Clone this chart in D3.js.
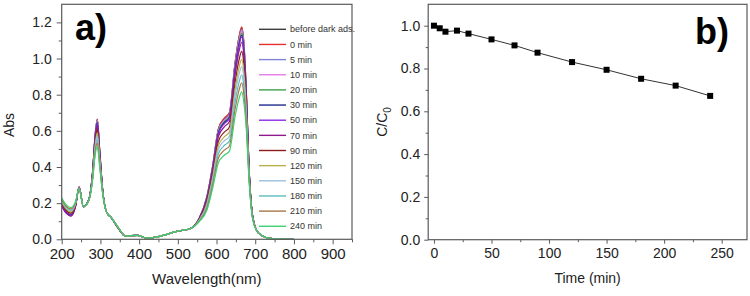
<!DOCTYPE html>
<html>
<head>
<meta charset="utf-8">
<script src="https://cdn.jsdelivr.net/npm/d3@7"></script>
<style>
  body { margin: 0; background: #fff; }
  svg { display: block; font-family: Arial, "Liberation Sans", sans-serif; }
</style>
</head>
<body>
<div class="canvas"></div>
<script>
// ---------- panel a data: UV-vis spectra ----------
const wavelengths = [200, 212, 224, 236, 245, 256, 270, 280, 286, 292, 298, 306, 316, 328, 345, 365, 395, 420, 460, 500,
  530, 555, 575, 590, 605, 620, 633, 648, 658, 665, 671, 677, 684, 694, 708, 730, 760, 800];

const seriesLabels = ['before dark ads.', '0 min', '5 min', '10 min', '20 min', '30 min', '50 min', '70 min',
  '90 min', '120 min', '150 min', '180 min', '210 min', '240 min'];

const seriesColors = ['#3c3c3c', '#e8302e', '#7f83d6', '#e67ee6', '#3aa24a', '#1f2a8c', '#8a2be8', '#8e1a8e',
  '#8e1c1c', '#b8b04a', '#9cc0dc', '#5cbcbc', '#a87848', '#3ed070'];

// one row per series, values at the wavelengths above
const absorbance = [
  [.195,.155,.140,.190,.290,.180,.220,.379,.569,.663,.499,.270,.150,.120,.065,.018,.022,.006,.020,.045,.057,.115,.235,.405,.612,.667,.697,.976,1.116,1.170,1.076,.817,.399,.120,.035,.008,.001,0],
  [.195,.155,.140,.190,.290,.180,.220,.380,.570,.665,.500,.270,.150,.120,.065,.018,.022,.006,.020,.045,.057,.115,.236,.407,.614,.670,.700,.980,1.120,1.175,1.080,.820,.400,.120,.035,.008,.001,0],
  [.200,.160,.145,.193,.289,.180,.220,.378,.565,.659,.496,.269,.150,.120,.065,.018,.022,.006,.020,.045,.057,.114,.233,.402,.606,.661,.691,.967,1.105,1.160,1.066,.811,.397,.119,.035,.008,.001,0],
  [.199,.159,.144,.192,.289,.180,.220,.376,.562,.655,.493,.269,.150,.120,.065,.018,.022,.006,.020,.045,.057,.114,.231,.398,.601,.656,.685,.959,1.096,1.150,1.057,.805,.395,.119,.035,.008,.001,0],
  [.203,.163,.148,.195,.289,.180,.219,.375,.559,.650,.490,.268,.150,.120,.065,.018,.022,.006,.020,.045,.057,.113,.228,.394,.595,.650,.679,.951,1.086,1.140,1.048,.799,.393,.119,.035,.008,.001,0],
  [.189,.149,.134,.186,.288,.180,.219,.374,.556,.646,.488,.267,.150,.120,.066,.018,.022,.006,.020,.045,.057,.113,.226,.391,.590,.645,.673,.943,1.077,1.130,1.039,.794,.391,.118,.035,.008,.001,0],
  [.185,.145,.130,.184,.288,.180,.219,.372,.553,.642,.485,.267,.150,.120,.066,.018,.022,.006,.020,.045,.057,.112,.224,.387,.585,.639,.667,.934,1.067,1.120,1.029,.787,.389,.118,.035,.008,.001,0],
  [.183,.143,.128,.183,.287,.180,.219,.368,.543,.629,.477,.265,.150,.120,.066,.018,.022,.006,.020,.045,.057,.111,.217,.377,.569,.622,.650,.909,1.039,1.090,1.002,.770,.383,.117,.035,.008,.001,0],
  [.199,.159,.144,.192,.285,.180,.218,.360,.527,.608,.463,.262,.150,.120,.067,.018,.022,.006,.020,.045,.057,.108,.207,.360,.543,.593,.620,.867,.991,1.040,.956,.740,.372,.114,.035,.008,.001,0],
  [.207,.167,.152,.197,.284,.180,.217,.354,.513,.589,.450,.260,.150,.120,.067,.018,.022,.006,.020,.045,.057,.106,.197,.344,.520,.567,.593,.830,.949,.995,.915,.713,.363,.113,.035,.008,.001,0],
  [.213,.173,.158,.201,.283,.180,.216,.348,.501,.572,.439,.257,.150,.120,.068,.018,.022,.006,.020,.045,.057,.104,.189,.330,.499,.545,.569,.797,.911,.955,.878,.690,.355,.111,.035,.008,.001,0],
  [.217,.177,.162,.203,.281,.180,.215,.341,.486,.552,.427,.255,.150,.120,.068,.018,.022,.006,.020,.045,.057,.101,.180,.314,.475,.519,.542,.759,.867,.909,.836,.662,.346,.109,.035,.008,.001,0],
  [.223,.183,.168,.207,.279,.180,.215,.335,.472,.533,.414,.252,.150,.120,.069,.018,.022,.006,.020,.045,.057,.099,.170,.299,.451,.493,.515,.721,.824,.865,.795,.636,.337,.107,.035,.008,.001,0],
  [.230,.190,.175,.211,.278,.180,.214,.328,.457,.512,.401,.249,.150,.120,.070,.018,.022,.006,.020,.045,.057,.097,.160,.282,.425,.465,.486,.680,.777,.815,.750,.607,.327,.105,.035,.008,.001,0]
];

const absTicks = [0, 0.2, 0.4, 0.6, 0.8, 1.0, 1.2];
const wlTicks = [200, 300, 400, 500, 600, 700, 800, 900];

// ---------- panel b data: C/C0 vs time ----------
const times = [0, 5, 10, 20, 30, 50, 70, 90, 120, 150, 180, 210, 240];
const ratios = [1.0, 0.988, 0.972, 0.977, 0.963, 0.936, 0.908, 0.874, 0.830, 0.794, 0.752, 0.720, 0.672];
const ratioTicks = [0, 0.2, 0.4, 0.6, 0.8, 1.0];
const timeTicks = [0, 50, 100, 150, 200, 250];

const svg = d3.select('.canvas')
  .append('svg')
  .attr('width', 750)
  .attr('height', 296);

const frameColor = '#5a5a5a';
const textColor = '#222';

// ================= PANEL A =================
const xA = d3.scaleLinear().domain([200, 950]).range([61.7, 352]);
const yA = d3.scaleLinear().domain([0, 1.3]).range([239.3, 4.3]);

svg.append('clipPath').attr('id', 'clipA')
  .append('rect')
  .attr('x', xA(200)).attr('y', yA(1.3))
  .attr('width', xA(950) - xA(200)).attr('height', yA(0) - yA(1.3));

const line = d3.line()
  .x((d, i) => xA(wavelengths[i]))
  .y(d => yA(d))
  .curve(d3.curveMonotoneX);

svg.append('g')
  .attr('clip-path', 'url(#clipA)')
  .selectAll('path')
  .data(absorbance)
  .enter()
  .append('path')
  .attr('d', line)
  .attr('fill', 'none')
  .attr('stroke', (d, i) => seriesColors[i])
  .attr('stroke-width', 1.2);

// axes
const axA_x = svg.append('g')
  .attr('transform', `translate(0, ${yA(0)})`)
  .call(d3.axisBottom(xA).tickValues(wlTicks).tickSize(5).tickPadding(4).tickFormat(d3.format('d')));
svg.append('g')
  .attr('transform', `translate(0, ${yA(0)})`)
  .call(d3.axisBottom(xA).tickValues(d3.range(250, 951, 100)).tickSize(3).tickFormat(''));

const axA_y = svg.append('g')
  .attr('transform', `translate(${xA(200)}, 0)`)
  .call(d3.axisLeft(yA).tickValues(absTicks).tickSize(5).tickPadding(5).tickFormat(d3.format('.1f')));
svg.append('g')
  .attr('transform', `translate(${xA(200)}, 0)`)
  .call(d3.axisLeft(yA).tickValues([0.1, 0.3, 0.5, 0.7, 0.9, 1.1]).tickSize(3).tickFormat(''));

axA_x.selectAll('text').style('font-size', '15px');
axA_y.selectAll('text').style('font-size', '14px');

svg.append('rect')
  .attr('x', xA(200)).attr('y', yA(1.3))
  .attr('width', xA(950) - xA(200)).attr('height', yA(0) - yA(1.3))
  .attr('fill', 'none')
  .attr('stroke', frameColor)
  .attr('stroke-width', 1.2);

svg.append('text')
  .attr('x', (xA(200) + xA(950)) / 2).attr('y', 284)
  .attr('text-anchor', 'middle')
  .attr('fill', textColor)
  .style('font-size', '15px')
  .text('Wavelength(nm)');

svg.append('text')
  .attr('transform', 'translate(14, 125) rotate(-90)')
  .attr('text-anchor', 'middle')
  .attr('fill', textColor)
  .style('font-size', '14px')
  .text('Abs');

svg.append('text')
  .attr('x', 75).attr('y', 40)
  .attr('fill', '#000')
  .style('font-size', '36px')
  .style('font-weight', 'bold')
  .text('a)');

// legend
const legend = svg.append('g')
  .selectAll('g')
  .data(seriesLabels)
  .enter()
  .append('g')
  .attr('transform', (d, i) => `translate(259, ${29.3 + i * 15.15})`);

legend.append('line')
  .attr('x1', 0).attr('x2', 27)
  .attr('stroke', (d, i) => seriesColors[i])
  .attr('stroke-width', 1.4);

legend.append('text')
  .attr('x', 31).attr('dy', '0.35em')
  .attr('fill', '#333')
  .style('font-size', '9px')
  .text(d => d);

// ================= PANEL B =================
const xB = d3.scaleLinear().domain([-5, 272]).range([428.2, 747]);
const yB = d3.scaleLinear().domain([0, 1.1]).range([239.7, 4.3]);

const axB_x = svg.append('g')
  .attr('transform', `translate(0, ${yB(0)})`)
  .call(d3.axisBottom(xB).tickValues(timeTicks).tickSize(4).tickPadding(4));
svg.append('g')
  .attr('transform', `translate(0, ${yB(0)})`)
  .call(d3.axisBottom(xB).tickValues([25, 75, 125, 175, 225]).tickSize(2.5).tickFormat(''));

const axB_y = svg.append('g')
  .attr('transform', `translate(${xB(-5)}, 0)`)
  .call(d3.axisLeft(yB).tickValues(ratioTicks).tickSize(4).tickPadding(4).tickFormat(d3.format('.1f')));
svg.append('g')
  .attr('transform', `translate(${xB(-5)}, 0)`)
  .call(d3.axisLeft(yB).tickValues([0.1, 0.3, 0.5, 0.7, 0.9]).tickSize(2.5).tickFormat(''));

axB_x.selectAll('text').style('font-size', '14px');
axB_y.selectAll('text').style('font-size', '14px');

svg.append('rect')
  .attr('x', xB(-5)).attr('y', yB(1.1))
  .attr('width', xB(272) - xB(-5)).attr('height', yB(0) - yB(1.1))
  .attr('fill', 'none')
  .attr('stroke', frameColor)
  .attr('stroke-width', 1.2);

svg.append('path')
  .datum(times)
  .attr('d', d3.line().x(d => xB(d)).y((d, i) => yB(ratios[i])))
  .attr('fill', 'none')
  .attr('stroke', '#333')
  .attr('stroke-width', 1);

svg.append('g')
  .selectAll('rect')
  .data(times)
  .enter()
  .append('rect')
  .attr('x', d => xB(d) - 3)
  .attr('y', (d, i) => yB(ratios[i]) - 3)
  .attr('width', 6).attr('height', 6)
  .attr('fill', '#000');

svg.append('text')
  .attr('x', (xB(-5) + xB(272)) / 2).attr('y', 283)
  .attr('text-anchor', 'middle')
  .attr('fill', textColor)
  .style('font-size', '14px')
  .text('Time (min)');

const cLabel = svg.append('text')
  .attr('transform', 'translate(387, 122) rotate(-90)')
  .attr('text-anchor', 'middle')
  .attr('fill', textColor)
  .style('font-size', '14px');
cLabel.append('tspan').text('C/C');
cLabel.append('tspan').attr('dy', 4).style('font-size', '10px').text('0');

svg.append('text')
  .attr('x', 695).attr('y', 44)
  .attr('fill', '#000')
  .style('font-size', '36px')
  .style('font-weight', 'bold')
  .text('b)');

// axis styling
svg.selectAll('.domain').remove();
svg.selectAll('.tick line').attr('stroke', frameColor);
svg.selectAll('.tick text').attr('fill', textColor);
</script>
</body>
</html>
